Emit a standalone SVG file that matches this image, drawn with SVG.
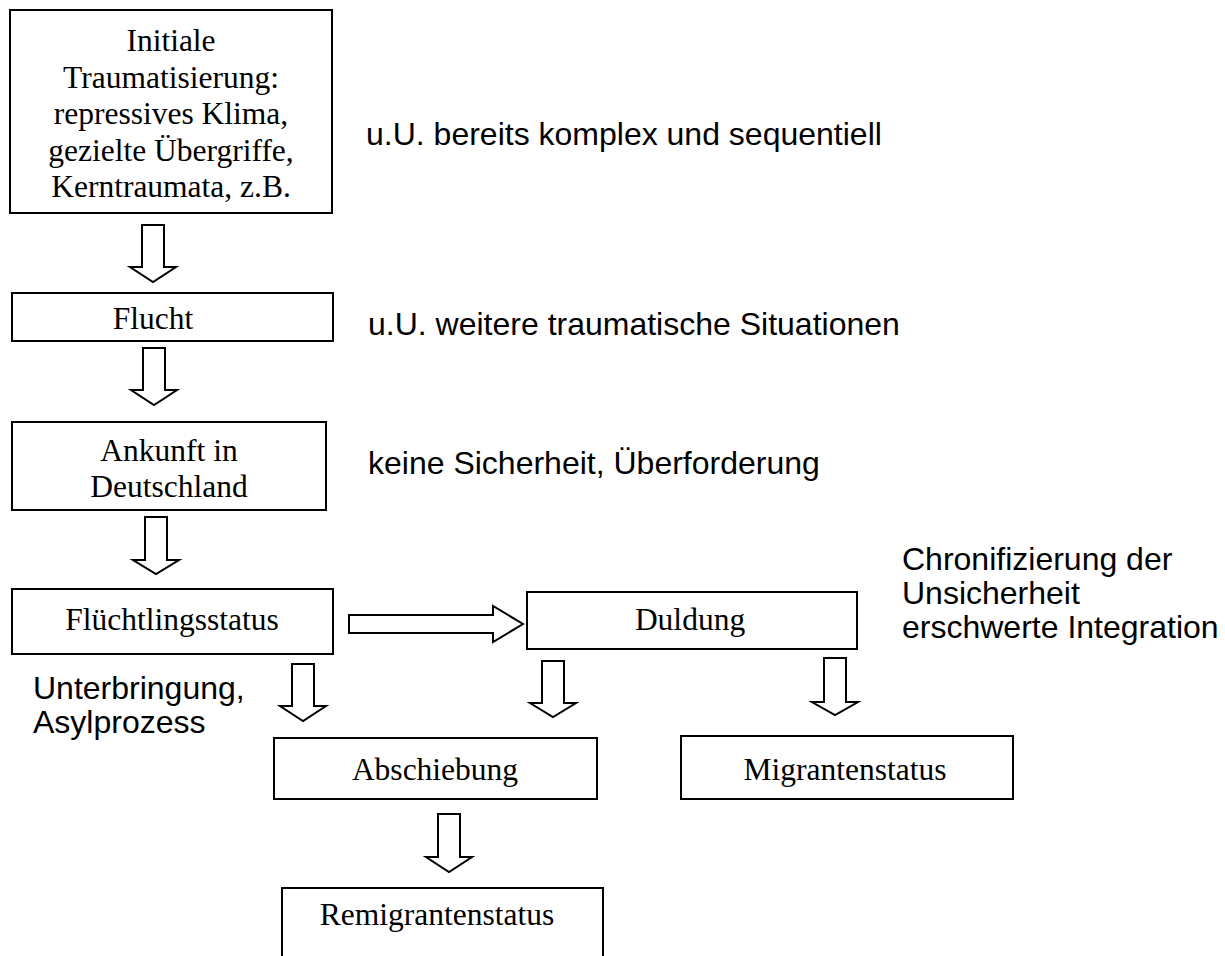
<svg xmlns="http://www.w3.org/2000/svg" width="1225" height="956" viewBox="0 0 1225 956">
<style>
.box{fill:#fff;stroke:#000;stroke-width:2}
.arr{fill:#fff;stroke:#000;stroke-width:2;stroke-linejoin:miter}
.ser{font-family:"Liberation Serif","Times New Roman",serif;font-size:31.5px;fill:#000;text-anchor:middle}
.san{font-family:"Liberation Sans",Arial,sans-serif;font-size:32px;fill:#000}
</style>
<rect width="1225" height="956" fill="#fff"/>
<g id="connectors">
<path class="arr" d="M142,225 H164 V267 H176 L153,282 L130,267 H142 Z"/>
<path class="arr" d="M143,348 H165 V390 H177 L154,405 L131,390 H143 Z"/>
<path class="arr" d="M145,517 H167 V560 H179 L156,574 L133,560 H145 Z"/>
<path class="arr" d="M349,615 H493 V606 L523,624 L493,642 V633 H349 Z"/>
<path class="arr" d="M292,664 H314 V706 H326 L303,721 L280,706 H292 Z"/>
<path class="arr" d="M542,661 H564 V703 H576 L553,717 L530,703 H542 Z"/>
<path class="arr" d="M824,658 H846 V702 H858 L835,715 L812,702 H824 Z"/>
<path class="arr" d="M438,814 H460 V857 H472 L449,872 L426,857 H438 Z"/>
</g>
<g id="initiale">
<rect class="box" x="10" y="10" width="322" height="203"/>
<text class="ser" x="171" y="51">Initiale</text>
<text class="ser" x="171" y="88">Traumatisierung:</text>
<text class="ser" x="171" y="124">repressives Klima,</text>
<text class="ser" x="171" y="161">gezielte Übergriffe,</text>
<text class="ser" x="171" y="197">Kerntraumata, z.B.</text>
</g>
<g id="flucht">
<rect class="box" x="12" y="293" width="321" height="48"/>
<text class="ser" x="153" y="329">Flucht</text>
</g>
<g id="ankunft">
<rect class="box" x="12" y="422" width="314" height="88"/>
<text class="ser" x="169" y="461">Ankunft in</text>
<text class="ser" x="169" y="497">Deutschland</text>
</g>
<g id="fluechtlingsstatus">
<rect class="box" x="12" y="589" width="321" height="65"/>
<text class="ser" x="172" y="630">Flüchtlingsstatus</text>
</g>
<g id="duldung">
<rect class="box" x="527" y="592" width="330" height="57"/>
<text class="ser" x="690" y="630">Duldung</text>
</g>
<g id="abschiebung">
<rect class="box" x="274" y="738" width="323" height="61"/>
<text class="ser" x="435" y="780">Abschiebung</text>
</g>
<g id="migrantenstatus">
<rect class="box" x="681" y="736" width="332" height="63"/>
<text class="ser" x="845" y="780">Migrantenstatus</text>
</g>
<g id="remigrantenstatus">
<rect class="box" x="282" y="888" width="321" height="100"/>
<text class="ser" x="437" y="925">Remigrantenstatus</text>
</g>
<g id="notes">
<text class="san" x="366" y="145">u.U. bereits komplex und sequentiell</text>
<text class="san" x="368" y="335">u.U. weitere traumatische Situationen</text>
<text class="san" x="368" y="474">keine Sicherheit, Überforderung</text>
<text class="san" x="902" y="570">Chronifizierung der</text>
<text class="san" x="902" y="604">Unsicherheit</text>
<text class="san" x="902" y="638">erschwerte Integration</text>
<text class="san" x="33" y="699">Unterbringung,</text>
<text class="san" x="33" y="733">Asylprozess</text>
</g>
</svg>
